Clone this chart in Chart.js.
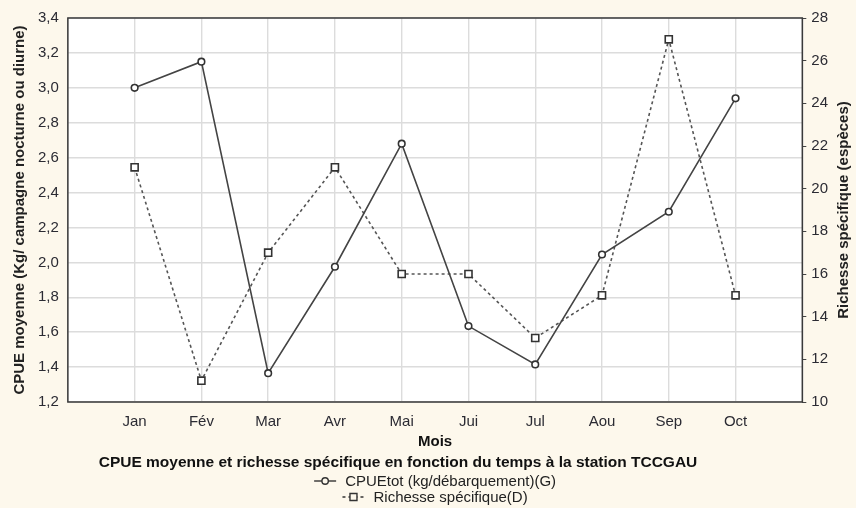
<!DOCTYPE html>
<html>
<head>
<meta charset="utf-8">
<script src="https://cdn.jsdelivr.net/npm/chart.js@4"></script>
<style>
  html, body { margin: 0; padding: 0; background: #fdf8ec; }
  #wrap { width: 856px; height: 508px; }
</style>
</head>
<body>
<div id="wrap"><canvas id="chart"></canvas></div>
<script>
// données
const months = ['Jan', 'Fév', 'Mar', 'Avr', 'Mai', 'Jui', 'Jul', 'Aou', 'Sep', 'Oct'];
const cpue = [3.0, 3.15, 1.365, 1.975, 2.68, 1.635, 1.415, 2.045, 2.29, 2.94];
const richesse = [21, 11, 17, 21, 16, 16, 13, 15, 27, 15];
const leftTicks = [1.2, 3.4, 0.2];   // min, max, pas
const rightTicks = [10, 28, 2];

const mainTitle = 'CPUE moyenne et richesse spécifique en fonction du temps à la station TCCGAU';
const FONT = "'Liberation Sans', Arial, sans-serif";
const INK = '#2b2b33';

// une case vide avant Jan et apres Oct
const labels = [''].concat(months, ['']);
const pad = arr => [null].concat(arr, [null]);

// trait + marqueur de la legende
function drawMark(ctx, x, y, shape, dashed) {
  ctx.save();
  ctx.strokeStyle = '#333';
  ctx.lineWidth = 1.4;
  if (dashed) ctx.setLineDash([3, 3]);
  ctx.beginPath(); ctx.moveTo(x, y); ctx.lineTo(x + 22, y); ctx.stroke();
  ctx.setLineDash([]);
  ctx.fillStyle = '#fdf8ec';
  ctx.beginPath();
  if (shape === 'circle') ctx.arc(x + 11, y, 3.2, 0, Math.PI * 2);
  else ctx.rect(x + 7.5, y - 3.5, 7, 7);
  ctx.fill(); ctx.stroke();
  ctx.restore();
}

const frame = {
  id: 'frame',
  beforeDraw(chart) {
    const { ctx } = chart;
    const a = chart.chartArea;
    ctx.save();
    ctx.fillStyle = '#ffffff';
    ctx.fillRect(a.left, a.top, a.right - a.left, a.bottom - a.top);
    ctx.restore();
  },
  afterDraw(chart) {
    const { ctx } = chart;
    const a = chart.chartArea;
    ctx.save();
    ctx.strokeStyle = '#3a3a3a';
    ctx.lineWidth = 1.5;
    ctx.strokeRect(a.left, a.top, a.right - a.left, a.bottom - a.top);

    // titre de l'axe droit, lu de bas en haut
    const s = chart.scales.y1;
    ctx.save();
    ctx.translate(s.right - 8, (a.top + a.bottom) / 2);
    ctx.rotate(-Math.PI / 2);
    ctx.font = 'bold 15px ' + FONT;
    ctx.fillStyle = '#222';
    ctx.textAlign = 'center';
    ctx.textBaseline = 'middle';
    ctx.fillText('Richesse spécifique (espèces)', 0, 0);
    ctx.restore();

    // titre principal
    ctx.font = 'bold 15.5px ' + FONT;
    ctx.fillStyle = '#111';
    ctx.textAlign = 'center';
    ctx.textBaseline = 'middle';
    ctx.fillText(mainTitle, 398, 463);

    // legende sur deux lignes
    const cx = (a.left + a.right) / 2;
    ctx.font = '15px ' + FONT;
    ctx.textAlign = 'left';
    ctx.fillStyle = '#222';
    chart.data.datasets.forEach((ds, i) => {
      const y = 481 + i * 16;
      const w = 22 + 9 + ctx.measureText(ds.label).width;
      const x0 = cx - w / 2;
      drawMark(ctx, x0, y, i === 0 ? 'circle' : 'rect', i === 1);
      ctx.fillText(ds.label, x0 + 31, y + 1);
    });
    ctx.restore();
  }
};

new Chart(document.getElementById('chart'), {
  type: 'line',
  data: {
    labels: labels,
    datasets: [{
      label: 'CPUEtot (kg/débarquement)(G)',
      data: pad(cpue),
      yAxisID: 'y',
      borderColor: '#444',
      borderWidth: 1.6,
      pointStyle: 'circle',
      pointRadius: 3.3,
      pointBorderWidth: 1.6,
      pointBackgroundColor: '#ffffff',
      pointBorderColor: '#333',
      tension: 0
    }, {
      label: 'Richesse spécifique(D)',
      data: pad(richesse),
      yAxisID: 'y1',
      borderColor: '#555',
      borderWidth: 1.6,
      borderDash: [3, 3],
      pointStyle: 'rect',
      pointRadius: 5,
      pointBorderWidth: 1.6,
      pointBackgroundColor: '#ffffff',
      pointBorderColor: '#333',
      tension: 0
    }]
  },
  options: {
    responsive: true,
    maintainAspectRatio: false,
    animation: false,
    layout: { padding: { top: 6, left: 10, right: 4, bottom: 50 } },
    plugins: {
      legend: { display: false },
      tooltip: { enabled: false }
    },
    scales: {
      x: {
        type: 'category',
        offset: false,
        grid: { color: '#dcdcdc', lineWidth: 1.4, drawTicks: false },
        border: { display: false },
        ticks: { color: INK, font: { family: FONT, size: 15 }, padding: 11, autoSkip: false, maxRotation: 0 },
        title: { display: true, text: 'Mois', color: '#111', font: { family: FONT, size: 15, weight: 'bold' }, padding: { top: -9, bottom: 7 } }
      },
      y: {
        position: 'left',
        min: leftTicks[0],
        max: leftTicks[1],
        grid: { color: '#dcdcdc', lineWidth: 1.4, drawTicks: false },
        border: { display: false },
        ticks: {
          stepSize: leftTicks[2],
          color: INK,
          font: { family: FONT, size: 15 },
          padding: 9,
          callback: v => v.toFixed(1).replace('.', ',')
        },
        title: { display: true, text: 'CPUE moyenne (Kg/ campagne nocturne ou diurne)', color: '#222', font: { family: FONT, size: 15, weight: 'bold' }, padding: { top: 1, bottom: 0 } }
      },
      y1: {
        position: 'right',
        min: rightTicks[0],
        max: rightTicks[1],
        grid: { drawOnChartArea: false, color: '#444', tickLength: 4 },
        border: { display: false },
        ticks: { stepSize: rightTicks[2], color: INK, font: { family: FONT, size: 15 }, padding: 5 },
        title: { display: true, text: 'Richesse spécifique (espèces)', color: 'rgba(0,0,0,0)', font: { family: FONT, size: 15, weight: 'bold' }, padding: { top: 0, bottom: 1 } }
      }
    }
  },
  plugins: [frame]
});
</script>
</body>
</html>
